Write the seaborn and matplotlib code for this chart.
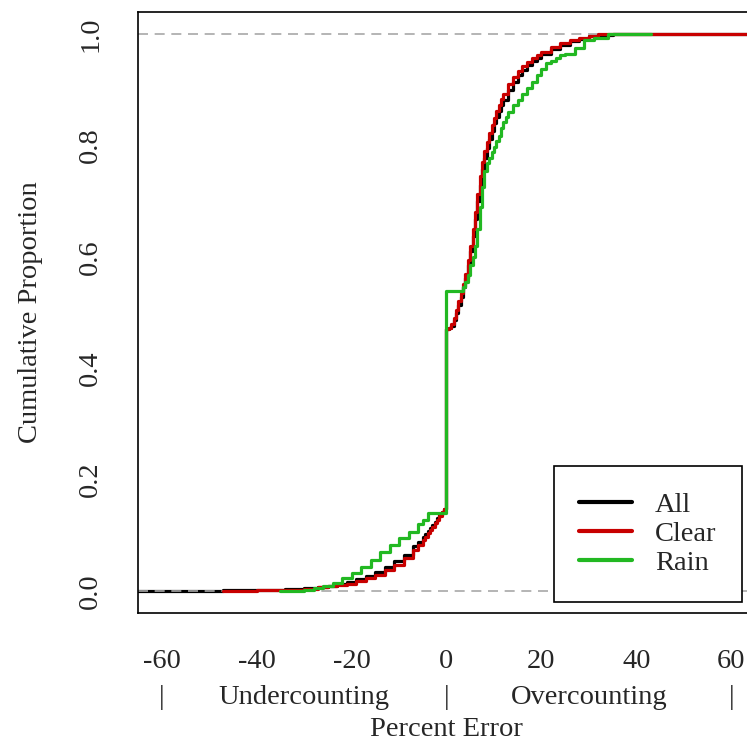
import matplotlib
matplotlib.use("Agg")
import matplotlib.pyplot as plt
import seaborn as sns
import pandas as pd

# ---- data ----
all_x = [-65, -47, -40, -34, -30, -27, -25, -23, -21, -19, -17, -15, -13, -11, -9, -7, -6, -5, -4.5, -4,
         -3.5, -3, -2.5, -2, -1.5, -1, -0.5,
         0, 0.5, 1, 1.5, 2, 2.5, 3, 3.5, 4, 4.5, 5, 5.5, 6, 6.5, 7, 7.5, 8, 8.5, 9, 9.5, 10, 10.5,
         11, 11.5, 12, 13, 14, 15, 16, 17, 18, 19, 20,
         22, 24, 26, 28, 30, 32, 35, 66]
all_y = [0.000, 0.001, 0.002, 0.003, 0.005, 0.007, 0.009, 0.012, 0.016, 0.021, 0.027, 0.034, 0.043, 0.053,
         0.065, 0.080, 0.088, 0.097, 0.102, 0.107, 0.112, 0.118, 0.124, 0.130, 0.136, 0.142, 0.146,
         0.470, 0.472, 0.475, 0.487, 0.500, 0.513, 0.528, 0.545, 0.562, 0.585, 0.610, 0.638, 0.668,
         0.700, 0.730, 0.757, 0.778, 0.796, 0.812, 0.827, 0.840, 0.851, 0.862, 0.872, 0.882,
         0.900, 0.914, 0.926, 0.936, 0.945, 0.952, 0.958, 0.964,
         0.974, 0.981, 0.987, 0.992, 0.996, 0.999, 1.000, 1.000]

clear_x = [-47, -40, -34, -30, -27, -25, -23, -21, -19, -17, -15, -13, -11, -9, -7, -6, -5, -4.5, -4,
           -3.5, -3, -2.5, -2, -1.5, -1, -0.5,
           0, 0.5, 1, 1.5, 2, 2.5, 3, 3.5, 4, 4.5, 5, 5.5, 6, 6.5, 7, 7.5, 8, 8.5, 9, 9.5, 10, 10.5,
           11, 11.5, 12, 13, 14, 15, 16, 17, 18, 19, 20,
           22, 24, 26, 28, 30, 32, 66]
clear_y = [0.000, 0.001, 0.002, 0.004, 0.006, 0.008, 0.010, 0.013, 0.017, 0.022, 0.029, 0.037, 0.047,
           0.059, 0.074, 0.083, 0.092, 0.097, 0.103, 0.109, 0.115, 0.121, 0.128, 0.135, 0.142, 0.147,
           0.470, 0.473, 0.480, 0.490, 0.505, 0.520, 0.535, 0.552, 0.570, 0.595, 0.620, 0.650, 0.680,
           0.713, 0.745, 0.770, 0.790, 0.807, 0.822, 0.837, 0.850, 0.862, 0.873, 0.884, 0.893,
           0.910, 0.923, 0.934, 0.943, 0.950, 0.957, 0.963, 0.968,
           0.977, 0.984, 0.989, 0.994, 0.997, 1.000, 1.000]

rain_x = [-35, -30, -28, -26, -24, -22, -20, -18, -16, -14, -12, -10, -8, -6, -5, -4,
          0, 3.4, 4, 4.5, 5, 5.5, 6, 6.5, 7, 7.5, 8, 8.5, 9, 9.5, 10, 10.5, 11, 11.5, 12, 12.5,
          13, 14, 15, 16, 17, 18, 19, 20,
          21, 22, 23, 24, 25, 27, 29, 31, 34, 43]
rain_y = [0.000, 0.002, 0.005, 0.009, 0.014, 0.022, 0.032, 0.043, 0.056, 0.070, 0.082, 0.095, 0.106,
          0.120, 0.128, 0.140,
          0.538, 0.545, 0.555, 0.568, 0.585, 0.600, 0.620, 0.650, 0.690, 0.725, 0.755, 0.768, 0.778,
          0.788, 0.797, 0.808, 0.818, 0.831, 0.843, 0.852,
          0.860, 0.872, 0.882, 0.893, 0.903, 0.914, 0.926, 0.938,
          0.948, 0.952, 0.957, 0.962, 0.965, 0.976, 0.990, 0.994, 1.000, 1.000]

series_names = ["All", "Clear", "Rain"]
series_colors = ["#000000", "#C80000", "#22B822"]
x_ticks = [-60, -40, -20, 0, 20, 40, 60]
y_ticks = [0.0, 0.2, 0.4, 0.6, 0.8, 1.0]

# ---- style ----
sns.set_style("white")
plt.rcParams["font.family"] = ["Liberation Serif", "DejaVu Serif"]
FS = 20.5

W, H = 747, 746
fig = plt.figure(figsize=(W / 100, H / 100), dpi=100)
left_px, right_px, top_px, bottom_px = 138, 755, 12, 613
ax = fig.add_axes([left_px / W, (H - bottom_px) / H, (right_px - left_px) / W, (bottom_px - top_px) / H])

lw = 2.3
df_all = pd.DataFrame({"x": all_x, "y": all_y})
df_clear = pd.DataFrame({"x": clear_x, "y": clear_y})
df_rain = pd.DataFrame({"x": rain_x, "y": rain_y})

sns.lineplot(data=df_all, x="x", y="y", ax=ax, estimator=None, sort=True,
             drawstyle="steps-post", color=series_colors[0], lw=lw, label=series_names[0])
for yv in (0.0, 1.0):
    ax.axhline(yv, color="#a8a8a8", lw=1.2, dashes=(6, 4))
sns.lineplot(data=df_clear, x="x", y="y", ax=ax, estimator=None, sort=True,
             drawstyle="steps-post", color=series_colors[1], lw=lw, label=series_names[1])
sns.lineplot(data=df_rain, x="x", y="y", ax=ax, estimator=None, sort=True,
             drawstyle="steps-post", color=series_colors[2], lw=lw, label=series_names[2])

ax.set_xlim(-65, 65)
ax.set_ylim(-0.04, 1.04)
ax.set_xticks(x_ticks)
ax.set_xticklabels([str(v) for v in x_ticks])
ax.set_yticks(y_ticks)
ax.set_yticklabels([f"{v:.1f}" for v in y_ticks])
ax.tick_params(axis="both", direction="out", length=12, width=1.1, labelsize=FS, color="black")
ax.tick_params(axis="x", pad=14)
ax.tick_params(axis="y", pad=13, labelrotation=90)
for lab in ax.get_yticklabels():
    lab.set_va("center")
ax.set_xlabel("")
ax.set_ylabel("")
for s in ax.spines.values():
    s.set_color("black")
    s.set_linewidth(1.2)
    s.set_visible(True)

# second row of x labels
tr = ax.get_xaxis_transform()
row_y = (bottom_px - 697) / (bottom_px - top_px)
for xv in (-60, 0, 60):
    ax.text(xv, row_y, "|", transform=tr, ha="center", va="center", fontsize=FS)
ax.text(-30, row_y, "Undercounting", transform=tr, ha="center", va="center", fontsize=FS)
ax.text(30, row_y, "Overcounting", transform=tr, ha="center", va="center", fontsize=FS)
ax.text(0, (bottom_px - 730) / (bottom_px - top_px), "Percent Error", transform=tr,
        ha="center", va="center", fontsize=FS)
ax.text((30 - left_px) / (right_px - left_px), 0.5, "Cumulative Proportion", transform=ax.transAxes,
        rotation=90, ha="center", va="center", fontsize=FS)

leg = ax.legend(loc="lower right", bbox_to_anchor=(742 / W, (H - 602) / H),
                bbox_transform=fig.transFigure, borderaxespad=0, fontsize=FS,
                frameon=True, fancybox=False, framealpha=1, edgecolor="black",
                handlelength=1.85, handletextpad=0.8, borderpad=0.9, labelspacing=0.12)
leg.get_frame().set_linewidth(1.2)
for h in leg.get_lines():
    h.set_linewidth(3)

fig.savefig("out.png", dpi=100)
